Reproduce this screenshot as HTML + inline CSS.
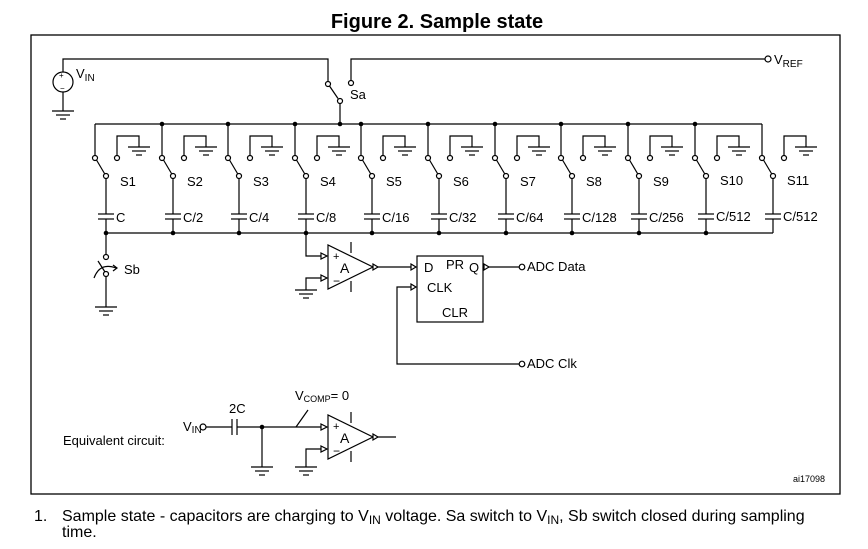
<!DOCTYPE html>
<html><head><meta charset="utf-8"><style>
html,body{margin:0;padding:0;background:#fff;}
svg{display:block;font-family:"Liberation Sans",Arial,sans-serif;}
</style></head><body>
<svg width="868" height="549" viewBox="0 0 868 549" xmlns="http://www.w3.org/2000/svg">
<defs>
<g id="gnd" stroke="#000" stroke-width="1.2" fill="none">
<line x1="-11" y1="0" x2="11" y2="0"/><line x1="-7" y1="4" x2="7" y2="4"/><line x1="-3" y1="8" x2="3" y2="8"/>
</g>
<g id="col" stroke="#000" stroke-width="1.2" fill="none">
<line x1="0" y1="124" x2="0" y2="155.5"/>
<circle cx="0" cy="158" r="2.5" fill="#fff"/>
<line x1="1.5" y1="160" x2="9.5" y2="173.5"/>
<circle cx="11" cy="176" r="2.5" fill="#fff"/>
<line x1="11" y1="178.5" x2="11" y2="214"/>
<line x1="3" y1="214" x2="19" y2="214"/><line x1="3" y1="219" x2="19" y2="219"/>
<line x1="11" y1="219" x2="11" y2="233"/>
<circle cx="22" cy="158" r="2.5" fill="#fff"/>
<polyline points="22,155.5 22,136 44,136 44,147"/>
<use href="#gnd" x="44" y="147"/>
</g>
<g id="amp" stroke="#000" stroke-width="1.2" fill="none">
<polygon points="0,0 0,44 45,22" fill="#fff"/>
<line x1="23" y1="-3" x2="23" y2="8"/><line x1="23" y1="36" x2="23" y2="47"/>
</g>
</defs>
<text x="437" y="28" font-size="20" font-weight="bold" text-anchor="middle">Figure 2. Sample state</text>
<rect x="31" y="35" width="809" height="459" fill="none" stroke="#000" stroke-width="1.3"/>
<g stroke="#000" stroke-width="1.2" fill="none">
<polyline points="63,72 63,59 328,59 328,81"/>
<circle cx="63" cy="82" r="10" fill="#fff"/>
<line x1="63" y1="92" x2="63" y2="111"/>
<use href="#gnd" x="63" y="111"/>
<circle cx="328" cy="84" r="2.5" fill="#fff"/>
<line x1="329.5" y1="86" x2="338" y2="98.5"/>
<circle cx="340" cy="101" r="2.5" fill="#fff"/>
<line x1="340" y1="103.5" x2="340" y2="124"/>
<circle cx="351" cy="83" r="2.5" fill="#fff"/>
<polyline points="351,80.5 351,59 765,59"/>
<circle cx="768" cy="59" r="3" fill="#fff"/>
<line x1="95" y1="124" x2="762" y2="124"/>
<line x1="106" y1="233" x2="773" y2="233"/>
<line x1="106" y1="233" x2="106" y2="254.5"/>
<circle cx="106" cy="257" r="2.5" fill="#fff"/>
<line x1="98" y1="261" x2="105" y2="272"/>
<path d="M94,278 Q100,262 116,268"/>
<polyline points="113,265 117,268 113,271"/>
<circle cx="106" cy="274" r="2.5" fill="#fff"/>
<line x1="106" y1="276.5" x2="106" y2="307"/>
<use href="#gnd" x="106" y="307"/>
<polyline points="306,233 306,256 326,256"/>
<polyline points="306,290 306,278 326,278"/>
<use href="#gnd" x="306" y="290"/>
<use href="#amp" x="328" y="245"/>
<line x1="377" y1="267" x2="413" y2="267"/>
<rect x="417" y="256" width="66" height="66" fill="#fff"/>
<line x1="487" y1="267" x2="519" y2="267"/>
<circle cx="522" cy="267" r="2.8" fill="#fff"/>
<polyline points="413,287 397,287 397,364 519,364"/>
<circle cx="522" cy="364" r="2.8" fill="#fff"/>
<polygon points="321,253 327,256 321,259" fill="#fff"/>
<polygon points="321,275 327,278 321,281" fill="#fff"/>
<polygon points="373,264 378,267 373,270" fill="#fff"/>
<polygon points="411,264 416,267 411,270" fill="#fff"/>
<polygon points="411,284 416,287 411,290" fill="#fff"/>
<polygon points="484,264 489,267 484,270" fill="#fff"/>
<circle cx="203" cy="427" r="3" fill="#fff"/>
<line x1="206" y1="427" x2="232" y2="427"/>
<line x1="232" y1="419" x2="232" y2="435"/><line x1="237" y1="419" x2="237" y2="435"/>
<line x1="237" y1="427" x2="326" y2="427"/>
<line x1="262" y1="427" x2="262" y2="467"/>
<use href="#gnd" x="262" y="467"/>
<line x1="308" y1="410" x2="296" y2="427"/>
<polyline points="306,467 306,449 326,449"/>
<use href="#gnd" x="306" y="467"/>
<use href="#amp" x="328" y="415"/>
<line x1="377" y1="437" x2="396" y2="437"/>
<polygon points="321,424 327,427 321,430" fill="#fff"/>
<polygon points="321,446 327,449 321,452" fill="#fff"/>
<polygon points="373,434 378,437 373,440" fill="#fff"/>
</g>
<g fill="#000">
<circle cx="340" cy="124" r="2.3"/><circle cx="162" cy="124" r="2.3"/><circle cx="228" cy="124" r="2.3"/><circle cx="295" cy="124" r="2.3"/><circle cx="361" cy="124" r="2.3"/><circle cx="428" cy="124" r="2.3"/><circle cx="495" cy="124" r="2.3"/><circle cx="561" cy="124" r="2.3"/><circle cx="628" cy="124" r="2.3"/><circle cx="695" cy="124" r="2.3"/>
<circle cx="106" cy="233" r="2.3"/><circle cx="173" cy="233" r="2.3"/><circle cx="239" cy="233" r="2.3"/><circle cx="306" cy="233" r="2.3"/><circle cx="372" cy="233" r="2.3"/><circle cx="439" cy="233" r="2.3"/><circle cx="506" cy="233" r="2.3"/><circle cx="572" cy="233" r="2.3"/><circle cx="639" cy="233" r="2.3"/><circle cx="706" cy="233" r="2.3"/>
<circle cx="262" cy="427" r="2.3"/>
</g>
<use href="#col" x="95"/><use href="#col" x="162"/><use href="#col" x="228"/><use href="#col" x="295"/><use href="#col" x="361"/><use href="#col" x="428"/><use href="#col" x="495"/><use href="#col" x="561"/><use href="#col" x="628"/><use href="#col" x="695"/><use href="#col" x="762"/>
<g font-size="13">
<text x="76" y="78">V<tspan font-size="10" dy="3">IN</tspan></text>
<text x="59" y="78" font-size="8">+</text><text x="60" y="91" font-size="8">−</text>
<text x="350" y="99">Sa</text>
<text x="774" y="64">V<tspan font-size="10" dy="3">REF</tspan></text>
<text x="120" y="186">S1</text><text x="187" y="186">S2</text><text x="253" y="186">S3</text><text x="320" y="186">S4</text><text x="386" y="186">S5</text><text x="453" y="186">S6</text><text x="520" y="186">S7</text><text x="586" y="186">S8</text><text x="653" y="186">S9</text><text x="720" y="185">S10</text><text x="787" y="185">S11</text>
<text x="116" y="222">C</text><text x="183" y="222">C/2</text><text x="249" y="222">C/4</text><text x="316" y="222">C/8</text><text x="382" y="222">C/16</text><text x="449" y="222">C/32</text><text x="516" y="222">C/64</text><text x="582" y="222">C/128</text><text x="649" y="222">C/256</text><text x="716" y="221">C/512</text><text x="783" y="221">C/512</text>
<text x="124" y="274">Sb</text>
<text x="333" y="260" font-size="11">+</text><text x="333" y="285" font-size="12">−</text>
<text x="340" y="273" font-size="14">A</text>
<text x="424" y="272">D</text><text x="446" y="269">PR</text><text x="469" y="272">Q</text>
<text x="427" y="292">CLK</text><text x="442" y="317">CLR</text>
<text x="527" y="271">ADC Data</text>
<text x="527" y="368">ADC Clk</text>
<text x="63" y="445">Equivalent circuit:</text>
<text x="183" y="431">V<tspan font-size="10" dy="2">IN</tspan></text>
<text x="229" y="413">2C</text>
<text x="295" y="400">V<tspan font-size="9" dy="2">COMP</tspan><tspan dy="-2">= 0</tspan></text>
<text x="333" y="430" font-size="11">+</text><text x="333" y="455" font-size="12">−</text>
<text x="340" y="443" font-size="14">A</text>
</g>
<text x="793" y="482" font-size="9">ai17098</text>
<g font-size="16">
<text x="34" y="521">1.</text>
<text x="62" y="521">Sample state - capacitors are charging to V<tspan font-size="12" dy="3">IN</tspan><tspan dy="-3"> voltage. Sa switch to V</tspan><tspan font-size="12" dy="3">IN</tspan><tspan dy="-3">, Sb switch closed during sampling</tspan></text>
<text x="62" y="537">time.</text>
</g>
</svg>
</body></html>
